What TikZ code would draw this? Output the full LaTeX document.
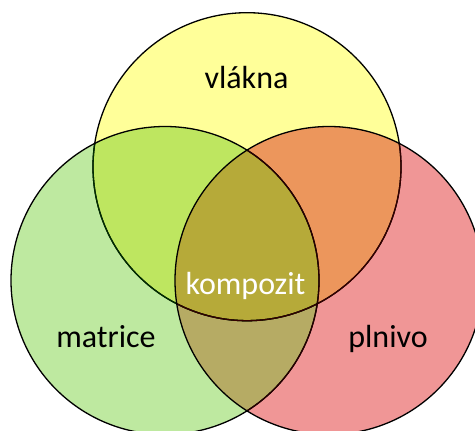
\documentclass[tikz,border=0pt]{standalone}
\usepackage{fontspec}
\setmainfont{Carlito}
\definecolor{cY}{RGB}{255,255,153}
\definecolor{cG}{RGB}{190,233,160}
\definecolor{cR}{RGB}{240,150,150}
\definecolor{cYG}{RGB}{190,230,96}
\definecolor{cYR}{RGB}{236,150,92}
\definecolor{cGR}{RGB}{182,171,100}
\definecolor{cAll}{RGB}{182,170,57}
\tikzset{
  lbl/.style={anchor=base, inner sep=0pt, font=\fontsize{32}{38}\selectfont},
  outl/.style={line width=1.3pt},
}
\begin{document}
\begin{tikzpicture}[x=1pt,y=1pt]
\useasboundingbox (0,0) rectangle (475,431);
\clip (0,0) rectangle (475,431);
\fill[white] (0,0) rectangle (475,431);
\coordinate (Y) at (247,264.3);
\coordinate (G) at (165,150.5);
\coordinate (R) at (329,150.5);
\def\rr{154}
% base fills
\fill[cY] (Y) circle (\rr);
\fill[cG] (G) circle (\rr);
\fill[cR] (R) circle (\rr);
% overlaps
\begin{scope}
  \clip (Y) circle (\rr);
  \fill[cYG] (G) circle (\rr);
  \fill[cYR] (R) circle (\rr);
\end{scope}
\begin{scope}
  \clip (G) circle (\rr);
  \fill[cGR] (R) circle (\rr);
\end{scope}
\begin{scope}
  \clip (Y) circle (\rr);
  \clip (G) circle (\rr);
  \fill[cAll] (R) circle (\rr);
\end{scope}
% outlines
\draw[outl, black] (Y) circle (\rr);
\begin{scope}
  \clip (G) circle (\rr);
  \draw[outl, black!70!green!60!black] (Y) circle (\rr);
\end{scope}
\begin{scope}
  \clip (R) circle (\rr);
  \draw[outl, black!80!red] (Y) circle (\rr);
\end{scope}
\draw[outl, black] (G) circle (\rr);
\begin{scope}
  \clip (R) circle (\rr);
  \draw[outl, black!85!red] (G) circle (\rr);
\end{scope}
\draw[outl, black] (R) circle (\rr);
% labels
\node[lbl] (vlakna) at (246.5,342) {vlákna};
\node[lbl, text=white] (kompozit) at (245.5,136) {kompozit};
\node[lbl] (matrice) at (106,83) {matrice};
\node[lbl] (plnivo) at (388,83) {plnivo};
\end{tikzpicture}
\end{document}
